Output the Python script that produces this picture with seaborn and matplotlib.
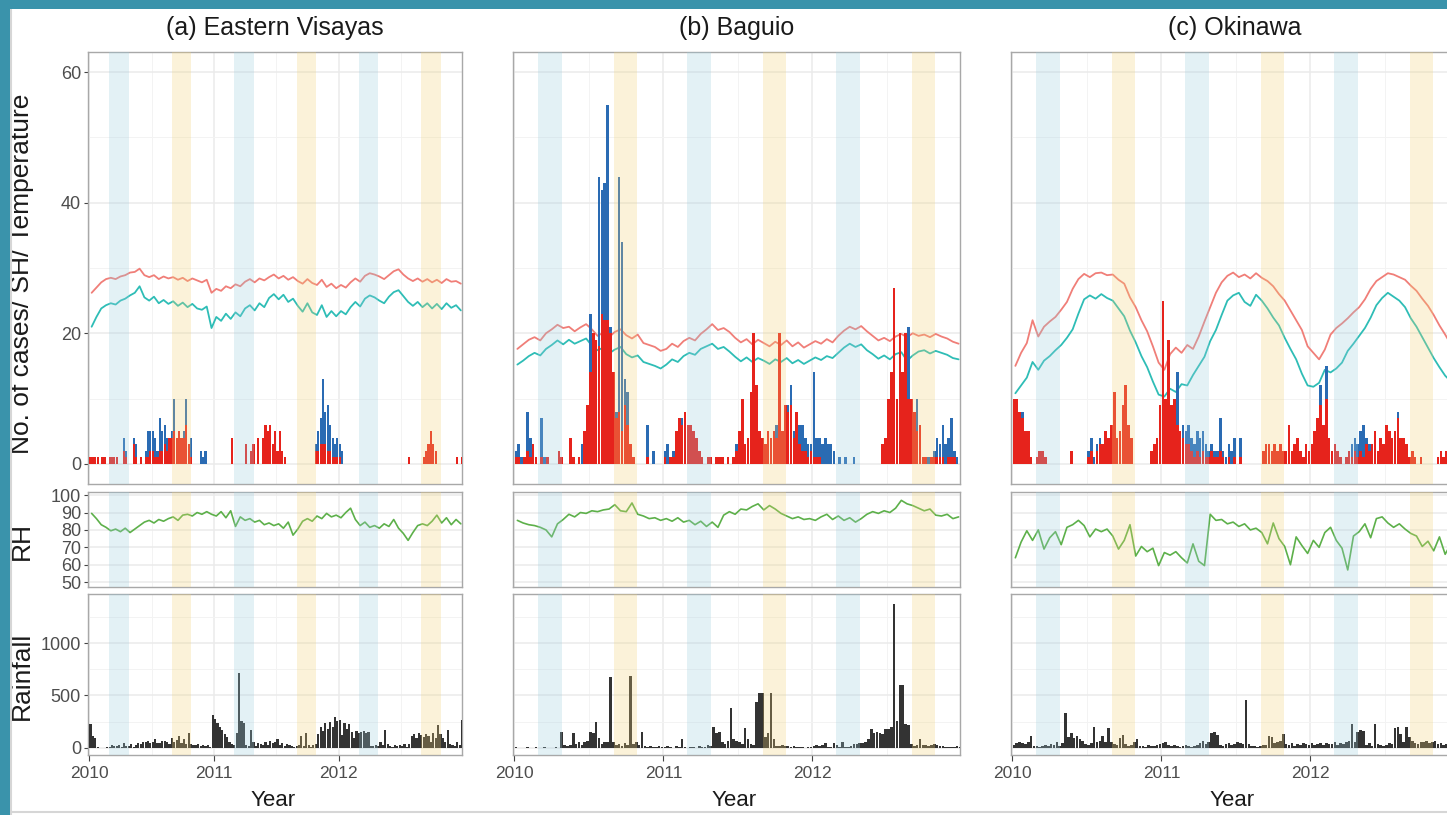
import numpy as np
import pandas as pd
import matplotlib
matplotlib.use("Agg")
import matplotlib.pyplot as plt
from matplotlib.patches import Rectangle
from matplotlib.lines import Line2D
from matplotlib.ticker import FixedLocator
import seaborn as sns

# ---------------------------------------------------------------- data
sites = ["(a) Eastern Visayas", "(b) Baguio", "(c) Okinawa"]
year_ticks = [2010, 2011, 2012]

# Mar-Apr and Sep-Oct shading windows (decimal years)
blue_bands = [(2010.16, 2010.32), (2011.16, 2011.32), (2012.16, 2012.32)]
yellow_bands = [(2010.665, 2010.82), (2011.665, 2011.82), (2012.665, 2012.82)]

# fortnightly temperature (deg C)
temp_a = [26.2, 27.0, 27.8, 28.3, 28.5, 28.3, 28.7, 28.9, 29.3, 29.4, 29.9, 28.9, 28.6, 28.9, 28.3, 28.7, 28.4, 28.6, 28.2, 28.5, 28.0, 28.4, 28.1, 27.8, 28.2, 26.2,
          26.8, 26.5, 27.2, 26.9, 27.5, 27.2, 27.9, 28.3, 27.8, 28.4, 28.1, 28.6, 29.0, 28.4, 28.8, 28.2, 28.6, 28.0, 27.6, 28.3, 27.7, 27.4, 28.2, 27.1, 27.6, 26.9,
          27.4, 27.0, 27.8, 28.4, 27.9, 28.8, 29.2, 29.0, 28.7, 28.3, 28.9, 29.5, 29.8, 29.0, 28.4, 28.0, 28.4, 27.9, 28.3, 27.8, 28.2, 27.7, 28.3, 27.9, 28.0, 27.6]
temp_b = [17.6, 18.3, 19.0, 19.4, 18.9, 20.0, 20.6, 21.3, 20.8, 21.0, 20.3, 20.9, 21.4, 20.6, 19.6, 20.1, 19.4, 20.2, 20.6, 19.7, 19.2, 19.8, 18.5, 18.2, 17.9, 17.3,
          17.6, 18.4, 17.9, 18.8, 19.3, 18.9, 19.9, 20.6, 21.4, 20.5, 20.8, 20.2, 19.3, 18.6, 19.1, 18.3, 19.0, 18.5, 18.0, 18.7, 18.2, 18.9, 18.0, 18.6, 17.8, 18.3,
          18.8, 18.4, 19.1, 18.6, 19.6, 20.4, 21.0, 20.6, 21.1, 20.3, 19.6, 18.9, 19.3, 18.8, 19.5, 19.9, 19.4, 20.0, 19.6, 19.8, 19.4, 19.9, 19.5, 19.2, 18.7, 18.4]
temp_c = [15.0, 17.0, 18.5, 22.0, 19.5, 21.0, 21.8, 22.5, 23.6, 24.8, 26.8, 28.3, 29.1, 28.6, 29.2, 29.3, 28.9, 29.0, 28.2, 27.6, 25.5, 24.0, 22.0, 20.3, 18.0, 15.5,
          14.4, 16.8, 17.8, 17.0, 18.2, 17.6, 19.5, 21.8, 24.0, 26.2, 27.8, 28.8, 29.3, 28.6, 29.0, 28.4, 29.2, 28.5, 28.0, 27.2, 26.0, 25.0, 23.5, 22.0, 20.5, 18.0,
          17.0, 16.0, 17.5, 19.8, 20.8, 21.5, 22.3, 23.2, 24.0, 25.2, 26.8, 28.0, 28.6, 29.2, 29.0, 28.6, 28.2, 27.3, 26.5, 25.3, 24.2, 22.8, 21.2, 19.8, 18.3, 17.0]

# fortnightly specific humidity (g/kg)
sh_a = [21.0, 22.5, 23.8, 24.3, 24.6, 24.4, 25.0, 25.3, 25.8, 26.2, 27.2, 25.5, 25.0, 25.6, 24.6, 25.1, 24.5, 24.9, 24.2, 24.7, 24.0, 24.5, 23.8, 23.6, 24.1, 20.8,
        22.5, 21.9, 23.0, 22.2, 23.2, 22.6, 23.8, 24.3, 23.5, 24.6, 24.0, 25.4, 26.0, 25.2, 25.9, 24.8, 25.3, 24.2, 23.3, 24.6, 23.2, 22.8, 24.3, 22.5, 23.4, 22.6,
        23.4, 22.9, 24.0, 24.8, 24.1, 25.3, 25.8, 25.5, 25.0, 24.6, 25.6, 26.3, 26.6, 25.7, 24.8, 24.2, 24.8, 24.0, 24.6, 23.8, 24.5, 23.7, 24.6, 23.9, 24.3, 23.5]
sh_b = [15.2, 15.8, 16.5, 17.0, 16.6, 17.6, 18.2, 18.9, 18.3, 19.0, 18.4, 18.8, 19.2, 18.1, 17.4, 17.8, 16.9, 17.5, 17.9, 16.8, 16.3, 16.6, 15.6, 15.3, 15.0, 14.6,
        15.2, 16.0, 15.6, 16.5, 17.0, 16.7, 17.6, 18.0, 18.4, 17.6, 17.9, 17.2, 16.4, 15.7, 16.3, 15.6, 16.2, 15.8, 15.3, 16.0, 15.6, 16.2, 15.4, 15.9, 15.3, 15.8,
        16.3, 15.9, 16.5, 16.2, 17.0, 17.8, 18.4, 17.9, 18.3, 17.4, 16.8, 16.1, 16.6, 16.0, 16.8, 17.1, 15.8, 16.6, 17.2, 17.4, 16.9, 17.3, 17.0, 16.7, 16.2, 16.0]
sh_c = [10.8, 12.0, 13.2, 15.6, 14.4, 15.8, 16.5, 17.4, 18.2, 19.3, 20.6, 23.0, 25.2, 25.8, 25.3, 26.0, 25.4, 25.0, 23.8, 22.6, 20.4, 18.6, 16.5, 14.8, 12.6, 10.6,
        10.3, 11.5, 11.0, 12.2, 12.0, 13.6, 15.0, 16.4, 18.8, 20.5, 22.8, 25.0, 25.8, 26.2, 24.8, 24.2, 25.9, 25.0, 23.8, 22.4, 21.2, 19.3, 17.6, 16.0, 13.8, 12.0,
        11.8, 12.4, 14.4, 14.0, 14.6, 15.5, 17.3, 18.4, 19.6, 20.8, 22.4, 24.3, 25.4, 26.2, 25.6, 25.0, 24.0, 22.3, 21.0, 19.4, 17.8, 16.2, 14.8, 13.5, 12.6, 11.8]

# fortnightly relative humidity (%)
rh_a = [89.5, 86.5, 83.0, 81.5, 79.5, 80.5, 79.0, 81.0, 78.5, 80.5, 82.5, 84.5, 85.5, 84.0, 86.0, 85.0, 86.5, 87.5, 85.5, 88.5, 89.0, 88.0, 90.0, 89.0, 90.5, 89.0,
        88.0, 90.5, 87.0, 91.0, 82.0, 87.5, 85.5, 86.5, 84.5, 85.5, 83.0, 84.0, 82.5, 83.5, 81.0, 84.5, 77.0, 80.5, 85.0, 86.5, 85.0, 88.0, 86.5, 89.5, 87.5, 88.5,
        87.0, 90.0, 92.5, 86.0, 82.5, 84.5, 81.5, 82.5, 81.0, 83.5, 82.0, 86.0, 81.0, 78.0, 74.0, 78.5, 82.5, 83.5, 82.5, 85.0, 88.5, 84.0, 87.0, 83.0, 86.0, 83.5]
rh_b = [85.5, 84.0, 83.0, 82.5, 81.5, 80.0, 76.0, 83.5, 86.0, 89.0, 87.5, 90.0, 89.5, 91.0, 90.5, 91.5, 92.0, 94.5, 91.0, 90.5, 95.5, 89.0, 88.0, 86.5, 87.0, 85.5,
        86.5, 85.0, 87.0, 84.5, 85.5, 83.0, 85.0, 82.0, 84.5, 81.5, 88.5, 90.5, 89.0, 92.0, 91.5, 93.5, 95.0, 91.5, 94.0, 92.0, 89.5, 88.0, 86.5, 87.5, 86.0, 86.5,
        85.5, 87.5, 89.0, 86.0, 88.0, 85.5, 87.0, 84.5, 86.5, 89.0, 90.5, 89.5, 91.0, 90.0, 92.5, 97.0, 95.0, 94.0, 92.5, 91.0, 92.0, 88.5, 88.0, 89.0, 86.5, 87.5]
rh_c = [64.0, 73.0, 79.5, 74.0, 80.0, 69.0, 75.5, 79.0, 71.5, 81.5, 83.0, 85.5, 82.5, 76.0, 80.5, 79.0, 80.5, 76.5, 69.0, 74.0, 83.0, 65.0, 70.5, 67.5, 69.5, 59.5,
        67.0, 65.5, 67.5, 64.0, 61.0, 72.0, 62.0, 59.5, 89.0, 85.5, 86.0, 83.5, 84.5, 82.0, 83.5, 80.0, 81.0, 78.5, 72.0, 84.0, 75.0, 70.5, 60.0, 76.0, 71.0, 66.5,
        74.0, 70.0, 78.5, 81.5, 74.0, 69.5, 57.0, 76.5, 79.0, 83.5, 75.5, 86.5, 87.5, 84.0, 81.5, 83.5, 80.5, 78.0, 76.5, 70.5, 73.5, 68.0, 76.0, 66.0, 72.0, 70.0]

# weekly rainfall (mm)
rain_a = [230, 110, 90, 5, 0, 0, 0, 10, 5, 30, 20, 15, 25,
          10, 50, 20, 15, 40, 10, 25, 45, 35, 60, 55, 70, 45,
          60, 80, 50, 45, 65, 70, 55, 40, 90, 60, 75, 110, 50,
          80, 40, 140, 35, 30, 25, 40, 20, 30, 15, 25, 10, 310,
          280, 240, 200, 170, 130, 100, 60, 40, 30, 140, 711, 260, 240,
          30, 20, 170, 60, 20, 50, 40, 30, 60, 25, 70, 45, 60,
          80, 30, 50, 20, 40, 30, 15, 10, 20, 30, 110, 20, 140,
          30, 10, 25, 40, 130, 200, 160, 240, 180, 250, 200, 290, 260,
          265, 120, 240, 180, 230, 150, 90, 160, 140, 150, 160, 140, 150,
          20, 15, 25, 20, 60, 30, 170, 40, 20, 10, 25, 15, 30,
          20, 35, 10, 40, 110, 130, 90, 140, 120, 100, 130, 110, 60,
          140, 90, 220, 130, 90, 60, 170, 40, 30, 20, 60, 30, 265]
rain_b = [5, 0, 3, 0, 8, 0, 0, 5, 0, 0, 10, 0, 0,
          0, 5, 0, 155, 25, 20, 25, 140, 40, 60, 30, 55, 70,
          150, 140, 250, 90, 40, 55, 60, 680, 60, 30, 40, 20, 50,
          30, 690, 40, 60, 30, 150, 20, 10, 15, 5, 10, 20, 5,
          10, 15, 5, 0, 20, 10, 80, 5, 0, 10, 5, 0, 15,
          10, 5, 30, 20, 200, 140, 150, 60, 40, 70, 380, 80, 70,
          60, 40, 190, 80, 40, 30, 440, 520, 520, 100, 140, 520, 80,
          20, 15, 25, 20, 15, 10, 20, 5, 10, 5, 0, 10, 5,
          20, 30, 15, 25, 45, 10, 5, 50, 30, 10, 55, 5, 10,
          20, 35, 40, 50, 45, 60, 80, 180, 140, 150, 140, 130, 180,
          180, 200, 1370, 260, 600, 600, 230, 220, 40, 20, 30, 80, 25,
          30, 15, 25, 40, 30, 15, 20, 10, 5, 10, 5, 15, 10]
rain_c = [30, 45, 60, 50, 40, 60, 110, 20, 15, 10, 15, 25, 20,
          40, 30, 60, 20, 50, 330, 100, 140, 90, 110, 80, 70, 40,
          30, 50, 200, 60, 70, 110, 60, 190, 60, 40, 30, 90, 120,
          40, 20, 30, 60, 80, 20, 15, 10, 25, 15, 20, 30, 40,
          45, 60, 30, 20, 25, 15, 10, 20, 30, 15, 10, 20, 30,
          50, 70, 40, 60, 140, 150, 120, 30, 20, 40, 50, 30, 40,
          60, 50, 40, 457, 40, 20, 15, 10, 20, 30, 25, 110, 100,
          50, 60, 70, 130, 40, 30, 50, 20, 40, 30, 45, 40, 30,
          50, 30, 40, 45, 30, 50, 35, 40, 60, 30, 45, 40, 60,
          70, 230, 60, 150, 170, 160, 30, 50, 20, 230, 40, 30, 20,
          30, 50, 40, 190, 200, 130, 60, 200, 100, 70, 50, 40, 60,
          60, 70, 50, 60, 70, 40, 50, 30, 40, 50, 30, 40, 50]

# weekly case counts, two groups
cases_blue_a = [0, 0, 0, 0, 0, 0, 0, 0, 0, 0, 0, 0, 0,
                0, 4, 2, 0, 0, 4, 3, 0, 1, 0, 2, 5, 5,
                5, 4, 2, 7, 5, 6, 4, 3, 5, 10, 4, 5, 4,
                5, 10, 2, 4, 0, 0, 0, 2, 1, 2, 0, 0, 0,
                0, 0, 0, 0, 0, 0, 0, 0, 0, 0, 0, 0, 0,
                0, 0, 0, 0, 0, 0, 0, 0, 0, 0, 0, 0, 0,
                0, 0, 0, 0, 0, 0, 0, 0, 0, 0, 0, 0, 0,
                0, 0, 0, 3, 5, 7, 13, 8, 9, 6, 4, 3, 4,
                3, 2, 0, 0, 0, 0, 0, 0, 0, 0, 0, 0, 0,
                0, 0, 0, 0, 0, 0, 0, 0, 0, 0, 0, 0, 0,
                0, 0, 0, 1, 0, 0, 0, 0, 0, 0, 0, 0, 0,
                0, 0, 0, 0, 0, 0, 0, 0, 0, 0, 0, 0, 0]
cases_red_a = [1, 1, 1, 1, 0, 1, 1, 0, 1, 1, 1, 1, 0,
               0, 2, 1, 0, 0, 3, 1, 0, 1, 0, 1, 1, 2,
               2, 1, 1, 2, 2, 3, 2, 4, 4, 5, 4, 5, 4,
               4, 6, 3, 1, 0, 0, 0, 0, 0, 0, 0, 0, 0,
               0, 0, 0, 0, 0, 0, 0, 4, 0, 0, 0, 0, 0,
               3, 0, 2, 3, 0, 4, 0, 4, 6, 5, 6, 3, 5,
               2, 5, 2, 1, 0, 0, 0, 0, 0, 0, 0, 0, 0,
               0, 0, 0, 2, 2, 3, 3, 3, 2, 2, 1, 1, 1,
               1, 0, 0, 0, 0, 0, 0, 0, 0, 0, 0, 0, 0,
               0, 0, 0, 0, 0, 0, 0, 0, 0, 0, 0, 0, 0,
               0, 0, 0, 1, 0, 0, 0, 0, 0, 1, 2, 3, 5,
               3, 2, 0, 0, 0, 0, 0, 0, 0, 0, 1, 0, 1]
cases_blue_b = [2, 3, 1, 0, 8, 4, 2, 0, 0, 7, 1, 0, 0,
                0, 0, 0, 0, 0, 0, 2, 0, 0, 0, 3, 5, 9,
                23, 16, 19, 44, 42, 43, 55, 21, 14, 8, 44, 34, 13,
                11, 2, 0, 0, 0, 0, 0, 6, 0, 2, 0, 0, 0,
                2, 3, 1, 2, 5, 6, 7, 5, 4, 3, 2, 2, 1,
                0, 0, 0, 1, 0, 1, 0, 1, 0, 0, 0, 0, 3,
                2, 1, 3, 2, 6, 0, 4, 5, 3, 2, 4, 3, 5,
                6, 6, 4, 6, 9, 12, 5, 4, 6, 6, 4, 3, 3,
                14, 4, 4, 3, 4, 3, 3, 2, 0, 1, 0, 1, 0,
                0, 1, 0, 0, 0, 0, 0, 0, 0, 0, 0, 1, 2,
                4, 5, 10, 8, 9, 8, 10, 21, 8, 6, 10, 5, 1,
                0, 1, 0, 2, 4, 3, 6, 3, 4, 7, 2, 1, 0]
cases_red_b = [1, 1, 0, 1, 2, 1, 3, 1, 0, 1, 0, 1, 0,
               0, 0, 2, 1, 0, 0, 4, 1, 0, 1, 0, 5, 9,
               14, 20, 19, 18, 23, 22, 22, 20, 14, 7, 8, 5, 9,
               6, 3, 1, 0, 0, 0, 0, 1, 0, 0, 0, 0, 0,
               1, 0, 1, 1, 5, 7, 6, 8, 6, 6, 5, 4, 2,
               1, 0, 1, 1, 0, 1, 1, 1, 0, 1, 0, 1, 2,
               5, 10, 3, 4, 11, 20, 12, 5, 4, 3, 5, 4, 5,
               4, 20, 5, 9, 8, 9, 4, 8, 3, 2, 2, 1, 2,
               1, 1, 1, 0, 0, 0, 0, 0, 0, 0, 0, 0, 0,
               0, 0, 0, 0, 0, 0, 0, 0, 0, 0, 0, 3, 4,
               10, 14, 27, 10, 20, 14, 20, 10, 10, 8, 5, 6, 1,
               1, 0, 1, 1, 1, 1, 1, 0, 1, 1, 1, 0, 0]
cases_blue_c = [0, 0, 0, 8, 0, 0, 0, 0, 0, 0, 0, 0, 0,
                0, 0, 0, 0, 0, 0, 0, 0, 0, 0, 0, 0, 0,
                2, 4, 1, 3, 4, 2, 3, 0, 0, 0, 0, 0, 0,
                0, 0, 0, 0, 0, 0, 0, 0, 0, 0, 0, 0, 0,
                0, 0, 0, 0, 0, 14, 4, 6, 5, 6, 4, 3, 5,
                4, 5, 3, 2, 3, 2, 2, 7, 2, 1, 3, 2, 4,
                0, 4, 0, 0, 0, 0, 0, 0, 0, 0, 0, 0, 0,
                0, 0, 0, 0, 0, 0, 0, 0, 0, 0, 0, 0, 0,
                0, 0, 0, 12, 0, 15, 0, 0, 0, 0, 0, 0, 0,
                2, 3, 4, 3, 5, 6, 4, 3, 2, 1, 0, 2, 3,
                4, 3, 0, 0, 8, 0, 0, 0, 0, 0, 0, 0, 0,
                0, 0, 0, 0, 0, 0, 0, 0, 0, 0, 0, 0, 0]
cases_red_c = [10, 10, 8, 7, 5, 5, 1, 0, 1, 2, 2, 1, 0,
               0, 0, 0, 0, 0, 0, 0, 2, 0, 0, 0, 0, 0,
               1, 2, 0, 2, 3, 3, 5, 4, 6, 11, 4, 5, 9,
               12, 6, 4, 0, 0, 0, 0, 0, 0, 2, 3, 4, 9,
               25, 10, 19, 9, 10, 6, 5, 4, 3, 3, 2, 1, 2,
               1, 2, 1, 1, 2, 1, 1, 2, 1, 0, 1, 0, 1,
               0, 1, 0, 0, 0, 0, 0, 0, 0, 2, 3, 3, 2,
               3, 2, 3, 2, 2, 6, 2, 3, 4, 2, 1, 3, 2,
               3, 5, 7, 9, 6, 10, 4, 2, 3, 2, 1, 0, 1,
               2, 1, 2, 1, 2, 1, 3, 2, 3, 5, 2, 4, 3,
               6, 5, 4, 5, 7, 4, 4, 3, 1, 2, 1, 0, 1,
               0, 0, 0, 0, 0, 1, 2, 1, 2, 1, 0, 1, 0]

# ---------------------------------------------------------------- time axes
N_WEEKS = 156
week_mid = 2010 + (np.arange(N_WEEKS) + 0.5) / 52
fortnight_mid = 2010 + (np.arange(78) + 0.5) / 26

TEMP_C = "#F07E78"
SH_C = "#2EBDB6"
RH_C = "#5DB04A"
RAIN_C = "#333333"
BLUE_C = "#2A6BB3"
RED_C = "#E6231C"
BAND_BLUE = "#9bccdd"
BAND_YELLOW = "#f2d275"
BAND_ALPHA = 0.27

sns.set_theme(style="white")
plt.rcParams["font.family"] = ["Liberation Sans", "DejaVu Sans"]

W, H = 1447, 815
fig = plt.figure(figsize=(W / 100, H / 100), dpi=100)
fig.patch.set_facecolor("white")


def px_axes(x0, x1, y0, y1):
    return fig.add_axes([x0 / W, 1 - y1 / H, (x1 - x0) / W, (y1 - y0) / H])


def weekly_bars(ax, values, color):
    frame = pd.DataFrame({"week": week_mid, "value": np.asarray(values, float)})
    sns.histplot(data=frame, x="week", weights="value", bins=N_WEEKS,
                 binrange=(2010, 2013), ax=ax, color=color, alpha=1,
                 linewidth=0, shrink=0.9, zorder=3)


def fortnight_line(ax, values, color, lw):
    frame = pd.DataFrame({"t": fortnight_mid, "value": values})
    sns.lineplot(data=frame, x="t", y="value", ax=ax, color=color, lw=lw,
                 estimator=None, legend=False, zorder=2)


col_px = [(88, 462), (513, 960), (1011, 1458)]
row_px = [(52, 484), (492, 587), (594, 755)]
row_limits = [(-3.1, 63.1), (47.2, 101.8), (-68, 1468)]
row_major = [[0, 20, 40, 60], [50, 60, 70, 80, 90, 100], [0, 500, 1000]]
row_minor = [[10, 30, 50], [], [250, 750, 1250]]

temps = [temp_a, temp_b, temp_c]
shs = [sh_a, sh_b, sh_c]
rhs = [rh_a, rh_b, rh_c]
rains = [rain_a, rain_b, rain_c]
blues = [cases_blue_a, cases_blue_b, cases_blue_c]
reds = [cases_red_a, cases_red_b, cases_red_c]


def style_axes(ax, r, c):
    ax.set_facecolor("white")
    ax.set_xlim(2009.99, 2012.99)
    ax.set_ylim(*row_limits[r])
    ax.xaxis.set_major_locator(FixedLocator(year_ticks))
    ax.xaxis.set_minor_locator(FixedLocator([2010.5, 2011.5, 2012.5]))
    ax.yaxis.set_major_locator(FixedLocator(row_major[r]))
    ax.yaxis.set_minor_locator(FixedLocator(row_minor[r]))
    ax.grid(True, which="major", color="#ebebeb", lw=1.1)
    ax.grid(True, which="minor", color="#f3f3f3", lw=0.7)
    ax.set_axisbelow(True)
    for s in ax.spines.values():
        s.set_visible(True)
        s.set_color("#a8a8a8")
        s.set_linewidth(1.0)
    ax.set_xlabel("")
    ax.set_ylabel("")
    ax.tick_params(which="minor", length=0)
    if c == 0:
        ax.tick_params(axis="y", which="major", left=True, length=3, width=0.8,
                       color="#444444", labelsize=13, labelcolor="#4d4d4d", pad=2)
    else:
        ax.tick_params(axis="y", left=False, labelleft=False)
    if r == 2:
        ax.tick_params(axis="x", which="major", bottom=True, length=4, width=0.8,
                       color="#444444", labelsize=12.5, labelcolor="#4d4d4d", pad=4)
        ax.set_xticklabels([str(y) for y in year_ticks])
    else:
        ax.tick_params(axis="x", bottom=False, labelbottom=False)
    for s, e in blue_bands:
        ax.axvspan(s, e, color=BAND_BLUE, alpha=BAND_ALPHA, lw=0, zorder=4)
    for s, e in yellow_bands:
        ax.axvspan(s, e, color=BAND_YELLOW, alpha=BAND_ALPHA, lw=0, zorder=4)


for c in range(3):
    x0, x1 = col_px[c]
    ax_top = px_axes(x0, x1, *row_px[0])
    ax_rh = px_axes(x0, x1, *row_px[1])
    ax_rain = px_axes(x0, x1, *row_px[2])

    # cases, temperature and specific humidity
    fortnight_line(ax_top, temps[c], TEMP_C, 1.3)
    fortnight_line(ax_top, shs[c], SH_C, 1.3)
    weekly_bars(ax_top, blues[c], BLUE_C)
    weekly_bars(ax_top, reds[c], RED_C)

    # relative humidity
    fortnight_line(ax_rh, rhs[c], RH_C, 1.2)

    # rainfall
    weekly_bars(ax_rain, rains[c], RAIN_C)

    for r, ax in enumerate([ax_top, ax_rh, ax_rain]):
        style_axes(ax, r, c)

    xc = (x0 + x1) / 2
    fig.text(xc / W, 1 - 28 / H, sites[c], ha="center", va="center",
             fontsize=18, color="#1a1a1a")
    fig.text((xc - 2) / W, 1 - 801 / H, "Year", ha="center", va="center",
             fontsize=16, color="#1a1a1a")

fig.text(22 / W, 1 - 274 / H, "No. of cases/ SH/ Temperature", rotation=90,
         ha="center", va="center", fontsize=19, color="#1a1a1a")
fig.text(22 / W, 1 - 541 / H, "RH", rotation=90, ha="center", va="center",
         fontsize=19, color="#1a1a1a")
fig.text(22 / W, 1 - 676 / H, "Rainfall", rotation=90, ha="center", va="center",
         fontsize=19, color="#1a1a1a")

# outer frame
FRAME = "#3a93ab"
fig.add_artist(Rectangle((0, 0), 10 / W, 1, transform=fig.transFigure,
                         facecolor=FRAME, edgecolor="none", zorder=10))
fig.add_artist(Rectangle((0, 1 - 9 / H), 1, 9 / H, transform=fig.transFigure,
                         facecolor=FRAME, edgecolor="none", zorder=10))
fig.add_artist(Line2D([11 / W, 11 / W], [0, 1 - 9 / H], transform=fig.transFigure,
                      color="#d6d6d6", lw=1.5, zorder=9))
fig.add_artist(Line2D([11 / W, 1], [1 - 812 / H, 1 - 812 / H], transform=fig.transFigure,
                      color="#d6d6d6", lw=1.5, zorder=9))

fig.savefig("out.png", dpi=100)
